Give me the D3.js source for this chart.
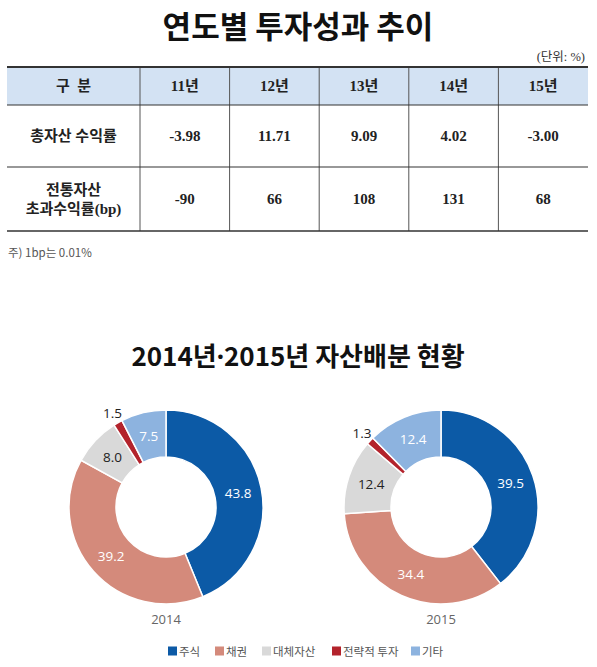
<!DOCTYPE html>
<html>
<head>
<meta charset="utf-8">
<script src="https://cdn.jsdelivr.net/npm/d3@7"></script>
<style>
  html, body { margin: 0; padding: 0; background: #fff; }
  svg { display: block; }
</style>
</head>
<body>
<svg id="chart" width="597" height="667"></svg>
<script>
// table data
var years = ["11년", "12년", "13년", "14년", "15년"];
var totalReturn = [-3.98, 11.71, 9.09, 4.02, -3.00];
var excessBp = [-90, 66, 108, 131, 68];

// allocation data
var assetClasses = ["주식", "채권", "대체자산", "전략적 투자", "기타"];
var alloc2014 = [43.8, 39.2, 8.0, 1.5, 7.5];
var alloc2015 = [39.5, 34.4, 12.4, 1.3, 12.4];
var allocYears = ["2014", "2015"];

var colors = ["#0c5aa6", "#d48a7b", "#d9d9d9", "#b3232c", "#8db3df"];
var labelColors = ["#fff", "#fff", "#222", "#222", "#fff"];

var svg = d3.select("#chart");
var sans = "'Noto Sans CJK KR', 'Noto Sans', sans-serif";
var serif = "'Liberation Serif', 'Noto Sans CJK KR', serif";
var loc = d3.formatLocale({decimal: ".", thousands: ",", grouping: [3], currency: ["", ""], minus: "-"});
var f2 = loc.format(".2f"), f0 = loc.format("d");

// ---- title 1
svg.append("text")
    .attr("x", 298).attr("y", 38)
    .attr("text-anchor", "middle")
    .attr("font-family", sans).attr("font-weight", "bold")
    .attr("font-size", 31).attr("fill", "#111")
    .text("연도별 투자성과 추이");

svg.append("text")
    .attr("x", 585).attr("y", 61)
    .attr("text-anchor", "end")
    .attr("font-family", serif).attr("font-size", 12.5).attr("fill", "#333")
    .text("(단위: %)");

// ---- table
var tLeft = 7, tRight = 588, firstW = 133;
var yHead = 67, yRow1 = 105, yRow2 = 167, yEnd = 231;
var col = d3.scaleBand().domain(years).range([tLeft + firstW, tRight]);

var table = svg.append("g");
table.append("rect")
    .attr("x", tLeft).attr("y", yHead)
    .attr("width", tRight - tLeft).attr("height", yRow1 - yHead)
    .attr("fill", "#d3e2f3");

// vertical dividers
table.selectAll("line.v")
    .data(years)
    .enter().append("line")
    .attr("x1", function(d){return col(d)})
    .attr("x2", function(d){return col(d)})
    .attr("y1", yHead).attr("y2", yEnd)
    .attr("stroke", "#555").attr("stroke-width", 1);

// horizontal rules
table.selectAll("line.h")
    .data([[yHead, 2], [yRow1, 1.2], [yRow2, 1.2], [yEnd, 1.5]])
    .enter().append("line")
    .attr("x1", tLeft).attr("x2", tRight)
    .attr("y1", function(d){return d[0]})
    .attr("y2", function(d){return d[0]})
    .attr("stroke", "#333")
    .attr("stroke-width", function(d){return d[1]});

var cellText = function(sel){
    sel.attr("text-anchor", "middle")
        .attr("dominant-baseline", "central")
        .attr("font-family", serif).attr("font-weight", "bold")
        .attr("font-size", 15).attr("fill", "#222");
};

var xFirst = tLeft + firstW / 2;
table.append("text").call(cellText)
    .attr("x", xFirst).attr("y", (yHead + yRow1) / 2)
    .attr("xml:space", "preserve")
    .text("구  분");
table.selectAll("text.yr")
    .data(years).enter().append("text").call(cellText)
    .attr("x", function(d){return col(d) + col.bandwidth() / 2})
    .attr("y", (yHead + yRow1) / 2)
    .text(function(d){return d});

table.append("text").call(cellText)
    .attr("x", xFirst).attr("y", (yRow1 + yRow2) / 2)
    .text("총자산 수익률");
table.selectAll("text.r1")
    .data(totalReturn).enter().append("text").call(cellText)
    .attr("x", function(d, i){return col(years[i]) + col.bandwidth() / 2})
    .attr("y", (yRow1 + yRow2) / 2)
    .text(function(d){return f2(d)});

var lbl2 = table.append("text").call(cellText)
    .attr("x", xFirst).attr("y", (yRow2 + yEnd) / 2)
    .attr("dominant-baseline", null);
lbl2.append("tspan").attr("x", xFirst).attr("dy", -4).text("전통자산");
lbl2.append("tspan").attr("x", xFirst).attr("dy", 19).text("초과수익률(bp)");
table.selectAll("text.r2")
    .data(excessBp).enter().append("text").call(cellText)
    .attr("x", function(d, i){return col(years[i]) + col.bandwidth() / 2})
    .attr("y", (yRow2 + yEnd) / 2)
    .text(function(d){return f0(d)});

svg.append("text")
    .attr("x", 8).attr("y", 257)
    .attr("font-family", sans).attr("font-size", 11.5).attr("fill", "#555")
    .text("주) 1bp는 0.01%");

// ---- title 2
var t2 = svg.append("text")
    .attr("x", 298).attr("y", 366)
    .attr("text-anchor", "middle")
    .attr("font-family", sans).attr("font-weight", "bold")
    .attr("font-size", 26).attr("fill", "#111");
t2.append("tspan").text("2014년");
t2.append("tspan").attr("font-family", "'Noto Sans', sans-serif").text("·");
t2.append("tspan").text("2015년 자산배분 현황");

// ---- donuts
var rOuter = 97, rInner = 50;
var pie = d3.pie().sort(null).value(function(d){return d});
var arc = d3.arc().innerRadius(rInner).outerRadius(rOuter);
var outArc = d3.arc().innerRadius(108).outerRadius(108);
var cx = d3.scalePoint().domain(allocYears).range([166, 441]);

[alloc2014, alloc2015].forEach(function(vals, k){
    var g = svg.append("g")
        .attr("transform", "translate(" + cx(allocYears[k]) + ",507)");
    var arcs = pie(vals);
    g.selectAll("path")
        .data(arcs).enter().append("path")
        .attr("d", arc)
        .attr("fill", function(d, i){return colors[i]})
        .attr("stroke", "#fff").attr("stroke-width", 1.5);
    g.selectAll("text.v")
        .data(arcs).enter().append("text")
        .attr("transform", function(d){
            var c = d.value < 3 ? outArc.centroid(d) : arc.centroid(d);
            return "translate(" + c + ")";
        })
        .attr("text-anchor", "middle")
        .attr("dominant-baseline", "central")
        .attr("font-family", "'Open Sans', sans-serif")
        .attr("font-size", 13.5)
        .attr("fill", function(d, i){return d.value < 3 ? "#222" : labelColors[i]})
        .text(function(d){return d.value.toFixed(1)});
    svg.append("text")
        .attr("x", cx(allocYears[k])).attr("y", 624)
        .attr("text-anchor", "middle")
        .attr("font-family", "'Open Sans', sans-serif")
        .attr("font-size", 13).attr("fill", "#666")
        .text(allocYears[k]);
});

// ---- legend
var legX = [168, 215, 262, 332, 411];
var leg = svg.append("g").attr("transform", "translate(0,651)");
var items = leg.selectAll("g")
    .data(assetClasses).enter().append("g")
    .attr("transform", function(d, i){return "translate(" + legX[i] + ",0)"});
items.append("rect")
    .attr("x", 0).attr("y", -4.5)
    .attr("width", 9).attr("height", 9)
    .attr("fill", function(d, i){return colors[i]});
items.append("text")
    .attr("x", 11).attr("y", 0)
    .attr("dominant-baseline", "central")
    .attr("font-family", sans).attr("font-size", 11.5).attr("fill", "#555")
    .text(function(d){return d});
</script>
</body>
</html>
